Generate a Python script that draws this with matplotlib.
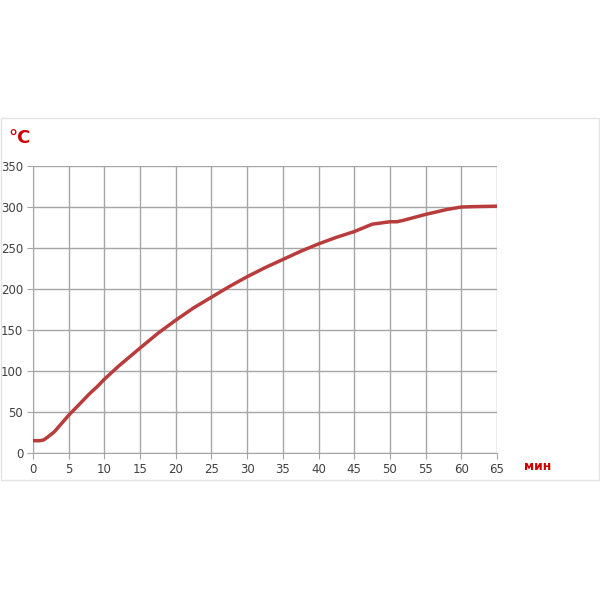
import matplotlib.pyplot as plt
from matplotlib.patches import Rectangle

# heating curve: time (min) vs temperature (°C)
minutes = [0, 1, 1.5, 2, 3, 4, 5, 6, 7, 8, 9, 10, 12, 15, 17.5, 20, 22.5, 25,
           27.5, 30, 32.5, 35, 37.5, 40, 42.5, 45, 47.5, 50, 51, 52, 55, 58,
           60, 62, 65]
temps = [15, 15, 16, 19, 26, 36, 46, 55, 64, 73, 81, 90, 106, 128, 146, 162,
         177, 190, 203, 215, 226, 236, 246, 255, 263, 270, 279, 282, 282, 284,
         291, 297, 300, 300.5, 301]

x_ticks = list(range(0, 66, 5))
y_ticks = list(range(0, 351, 50))

fig = plt.figure(figsize=(6, 6), dpi=100)
fig.set_facecolor('white')

# faint outer frame of the original chart
fig.patches.append(Rectangle((1 / 600, 1 - 480 / 600), 598 / 600, 362 / 600,
                             transform=fig.transFigure, fill=False,
                             edgecolor='#e4e4e4', linewidth=1))

ax = fig.add_axes([33 / 600, 1 - 453 / 600, 464 / 600, 287 / 600])
ax.plot(minutes, temps, color='#b83c3c', linewidth=2.5, solid_capstyle='round',
        solid_joinstyle='round', zorder=3)

ax.set_xlim(0, 65)
ax.set_ylim(0, 350)
ax.set_xticks(x_ticks)
ax.set_yticks(y_ticks)
ax.grid(True, color='#a6a6a6', linewidth=1)
for s in ['top', 'right']:
    ax.spines[s].set_visible(False)
for s in ['left', 'bottom']:
    ax.spines[s].set_color('#a6a6a6')
ax.tick_params(colors='#a6a6a6', labelcolor='#404040', labelsize=8.5, length=4, pad=3)

fig.text(8 / 600, 1 - 138 / 600, '°C', color='#cc0000', fontsize=13,
         fontweight='bold', va='center', ha='left')
fig.text(524 / 600, 1 - 466 / 600, 'мин', color='#cc0000', fontsize=9,
         fontweight='bold', va='center', ha='left')

fig.savefig('out.png', dpi=100)
